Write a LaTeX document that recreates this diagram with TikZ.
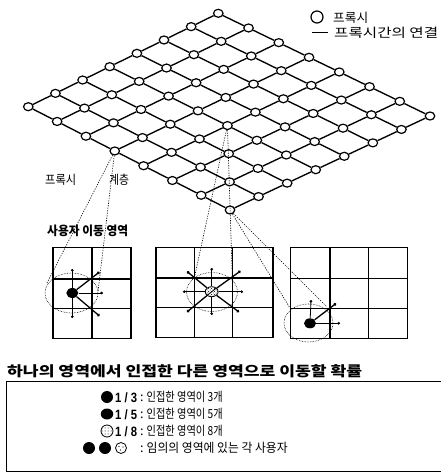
\documentclass[tikz,border=0pt]{standalone}
\usepackage{fontspec}
\setmainfont{Noto Sans CJK KR}
\newfontfamily\latf{Liberation Sans}
\usetikzlibrary{shapes.geometric,arrows.meta,patterns}
\newcommand{\kfit}[2]{\resizebox{#1}{\height}{#2}}
\begin{document}
\begin{tikzpicture}[x=1pt,y=-1pt,
  pnode/.style={ellipse,draw,fill=white,line width=1.2pt,minimum width=9.5pt,minimum height=8pt,inner sep=0pt},
  plink/.style={line width=1.35pt},
  conn/.style={line width=0.6pt,dash pattern=on 1.2pt off 1.3pt},
  zone/.style={line width=0.6pt,densely dotted},
  gridl/.style={line width=1.6pt},
  arr/.style={line width=0.8pt,-{Circle[length=2.6pt]}},
  darr/.style={line width=1.3pt,-{Circle[length=2.8pt]}},
  udot/.style={ellipse,fill=black,minimum width=12pt,minimum height=10pt,inner sep=0pt},
  txt/.style={anchor=west,inner sep=0pt,font=\fontsize{12.5}{14}\selectfont},
  btxt/.style={anchor=west,inner sep=0pt,font=\bfseries},
  ltxt/.style={anchor=west,inner sep=0pt,font=\latf\bfseries\fontsize{13.5}{15}\selectfont}
]
\useasboundingbox (0,0) rectangle (440,473);

% ---------- proxy lattice ----------
\foreach \i in {0,...,7}{
  \foreach \j in {0,...,7}{
    \pgfmathsetmacro\px{218.3+211.7*\i/7-190*\j/7-10*\i*\j/49}
    \pgfmathsetmacro\py{13.3+102.7*\i/7+93.4*\j/7+0.6*\i*\j/49}
    \node[pnode] (n-\i-\j) at (\px,\py) {};
  }
}
\foreach \i in {0,...,7}{
  \foreach \j [count=\k] in {0,...,6}{
    \draw[plink] (n-\i-\j) -- (n-\i-\k);
    \draw[plink] (n-\j-\i) -- (n-\k-\i);
  }
}

% ---------- top legend ----------
\node[circle,draw,line width=1.2pt,minimum size=12pt,inner sep=0pt] (lgc) at (317,17) {};
\node[txt] (lg1) at (333,17.5) {\kfit{35pt}{프록시}};
\coordinate (lgd1) at (312,33);
\coordinate (lgd2) at (328,33);
\draw[line width=1pt] (lgd1) -- (lgd2);
\node[txt] (lg2) at (334,33) {\kfit{104pt}{프록시간의 연결}};

% ---------- labels ----------
\node[txt] (layer) at (45,180) {\kfit{31pt}{프록시}\hspace{33pt}\kfit{20pt}{계층}};
\node[btxt,font=\bfseries\fontsize{12.5}{14}\selectfont] (area) at (47,231) {\kfit{81pt}{사용자 이동 영역}};

% ---------- connector end points ----------
\coordinate (g1a) at (47,283);
\coordinate (g1b) at (98,292);
\coordinate (g2a) at (194.3,278);
\coordinate (g2b) at (232.3,278);
\coordinate (g3a) at (290,308);
\coordinate (g3b) at (327,307);
\draw[conn] (n-3-7) -- (g1a);
\draw[conn] (n-3-7) -- (g1b);
\draw[conn] (n-4-4) -- (g2a);
\draw[conn] (n-4-4) -- (g2b);
\draw[conn] (n-7-7) -- (g3a);
\draw[conn] (n-7-7) -- (g3b);

% ---------- zones (dotted ellipses) ----------
\draw[zone] (71.5,293) ellipse [x radius=26.5, y radius=20];
\draw[zone] (212,292) ellipse [x radius=25.5, y radius=19.5];
\draw[zone] (308.5,323) ellipse [x radius=24.5, y radius=19];

% ---------- grid 1 ----------
\draw[gridl] (52.7,247.5) rectangle (130.7,338.5);
\draw[gridl] (91.7,247.5) -- (91.7,338.5);
\draw[gridl] (52.7,279) -- (130.7,279);
\draw[gridl] (52.7,308.5) -- (130.7,308.5);
% ---------- grid 2 ----------
\draw[gridl] (156,247.5) rectangle (273,337.5);
\draw[gridl] (194.3,247.5) -- (194.3,337.5);
\draw[gridl] (232.3,247.5) -- (232.3,337.5);
\draw[gridl] (156,278) -- (273,278);
\draw[gridl] (156,307.5) -- (273,307.5);
% ---------- grid 3 ----------
\draw[gridl] (290.5,247.5) rectangle (407.5,338.5);
\draw[gridl] (330,247.5) -- (330,338.5);
\draw[gridl] (368.3,247.5) -- (368.3,338.5);
\draw[gridl] (290.5,278.5) -- (407.5,278.5);
\draw[gridl] (290.5,308.5) -- (407.5,308.5);

% ---------- users and moves ----------
\node[udot] (u1) at (72.3,293) {};
\coordinate (u1n) at (72.3,269);
\coordinate (u1s) at (72.3,318);
\coordinate (u1e) at (103,293);
\coordinate (u1ne) at (99.5,272);
\coordinate (u1se) at (99.5,316);
\draw[arr] (u1) -- (u1n);
\draw[arr] (u1) -- (u1s);
\draw[arr] (u1) -- (u1e);
\draw[darr] (u1) -- (u1ne);
\draw[darr] (u1) -- (u1se);

\node[ellipse,draw,line width=0.8pt,minimum width=13pt,minimum height=10pt,inner sep=0pt,
      preaction={fill=white},pattern=crosshatch dots] (u2) at (211.7,291.7) {};
\draw[line width=0.8pt] (u2.south west) -- (u2.north east);
\coordinate (u2n) at (211.7,268);
\coordinate (u2s) at (211.7,315);
\coordinate (u2w) at (183,291.7);
\coordinate (u2e) at (243,291.7);
\coordinate (u2nw) at (187,271.5);
\coordinate (u2ne) at (240.5,271);
\coordinate (u2sw) at (187,312);
\coordinate (u2se) at (239,312);
\draw[arr] (u2) -- (u2n);
\draw[arr] (u2) -- (u2s);
\draw[arr] (u2) -- (u2w);
\draw[arr] (u2) -- (u2e);
\draw[darr] (u2) -- (u2nw);
\draw[darr] (u2) -- (u2ne);
\draw[darr] (u2) -- (u2sw);
\draw[darr] (u2) -- (u2se);

\node[udot] (u3) at (310,323.3) {};
\coordinate (u3n) at (311,300);
\coordinate (u3e) at (340,323.3);
\coordinate (u3ne) at (336,303.5);
\draw[arr] (u3) -- (u3n);
\draw[arr] (u3) -- (u3e);
\draw[darr] (u3) -- (u3ne);

% ---------- bottom legend ----------
\node[btxt,font=\bfseries\fontsize{14}{16}\selectfont] (head) at (7,371) {\kfit{355pt}{하나의 영역에서 인접한 다른 영역으로 이동할 확률}};
\draw[line width=0.9pt] (6,381) rectangle (441,471.5);

\node[circle,fill=black,minimum size=12pt,inner sep=0pt] (k1) at (107,397) {};
\node[ltxt] (k1a) at (115,397.5) {\kfit{22pt}{1 / 3}};
\node[txt] (k1b) at (140,397) {:\hspace{3pt}\kfit{76pt}{인접한 영역이 3개}};

\node[ellipse,fill=black,minimum width=12.5pt,minimum height=11pt,inner sep=0pt] (k2) at (107,414) {};
\node[ltxt] (k2a) at (115,414.5) {\kfit{22pt}{1 / 5}};
\node[txt] (k2b) at (140,414) {:\hspace{3pt}\kfit{76pt}{인접한 영역이 5개}};

\node[circle,draw,line width=0.8pt,minimum size=12pt,inner sep=0pt,
      preaction={fill=white},pattern=dots] (k3) at (107,431) {};
\node[ltxt] (k3a) at (115,431.5) {\kfit{22pt}{1 / 8}};
\node[txt] (k3b) at (140,431) {:\hspace{3pt}\kfit{76pt}{인접한 영역이 8개}};

\node[circle,fill=black,minimum size=12pt,inner sep=0pt] (k4a) at (89,448) {};
\node[circle,fill=black,minimum size=12pt,inner sep=0pt] (k4b) at (105,448) {};
\node[circle,draw,line width=0.8pt,minimum size=11pt,inner sep=0pt] (k4c) at (121,448) {};
\fill (119,446.5) circle (0.6) (123,447) circle (0.6) (120.5,450) circle (0.6);
\node[txt] (k4d) at (140,448) {:\hspace{3pt}\kfit{141pt}{임의의 영역에 있는 각 사용자}};
\end{tikzpicture}
\end{document}
